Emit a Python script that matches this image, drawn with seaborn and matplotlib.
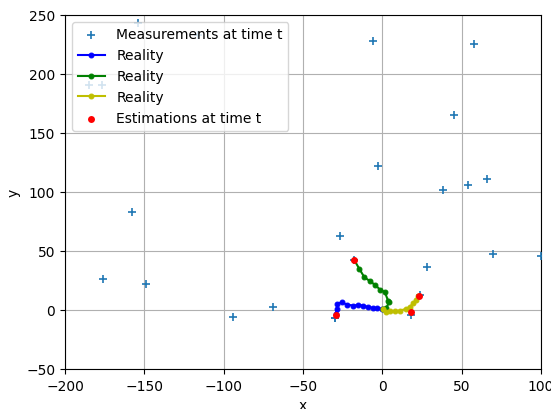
import matplotlib
matplotlib.use('Agg')
import matplotlib.pyplot as plt
import seaborn as sns

meas_x = [-154, -116, -185, -177, -6, 58, 45, -3, 38, 54, 66, -158, -27, 28, 70, 100,
          -176, -149, -94, -69, -30, -30, 24, 18, -18]
meas_y = [243, 233, 191, 191, 228, 225, 165, 122, 102, 106, 111, 83, 63, 36, 47, 46,
          26, 22, -6, 2.5, -7, -7, 13, -4, 42]

# Reality tracks
blue_x = [-29.4, -28.8, -28.4, -25.6, -22.5, -18.3, -15.2, -12.0, -8.9, -6.1, -3.2, -0.4]
blue_y = [-3.7, 0.8, 5.0, 6.5, 4.5, 3.6, 4.2, 3.6, 2.3, 1.7, 1.4, 0.8]
green_x = [-17.9, -14.5, -11.4, -7.8, -4.7, -1.5, 1.6, 3.7, 4.4, 3.7, 2.3, 0.6]
green_y = [42.6, 34.7, 27.7, 24.3, 21.2, 17.2, 15.0, 10.7, 7.0, 3.6, 1.4, 0.3]
yellow_x = [0.6, 2.3, 4.8, 7.9, 11.1, 14.9, 17.4, 19.5, 21.2, 22.6]
yellow_y = [0.3, -2.0, -1.4, -1.1, -0.6, 0.8, 2.8, 5.7, 8.7, 11.6]

# Estimations at time t
est_x = [-18, -29.5, 23, 18]
est_y = [42, -4, 11.5, -1.5]

fig = plt.figure(figsize=(5.51, 4.10), dpi=100)
ax = fig.add_axes([0.118, 0.098, 0.864, 0.863])

sns.scatterplot(x=meas_x, y=meas_y, marker='+', s=40, linewidth=1.2, color='C0',
                label='Measurements at time t', ax=ax, zorder=3)
for xs, ys, c in [(blue_x, blue_y, 'b'), (green_x, green_y, 'g'), (yellow_x, yellow_y, 'y')]:
    sns.lineplot(x=xs, y=ys, sort=False, color=c, marker='o', markersize=3.5,
                 markeredgecolor=c, markerfacecolor=c, linewidth=1.5,
                 label='Reality', ax=ax, zorder=3)
sns.scatterplot(x=est_x, y=est_y, color='r', s=25, edgecolor='r', linewidth=0,
                label='Estimations at time t', ax=ax, zorder=4)

ax.set_xlim(-200, 100)
ax.set_ylim(-50, 250)
ax.set_xlabel('x')
ax.set_ylabel('y')
ax.grid(True)
ax.set_axisbelow(True)
ax.legend(loc='upper left')

fig.savefig('out.png', dpi=100)
